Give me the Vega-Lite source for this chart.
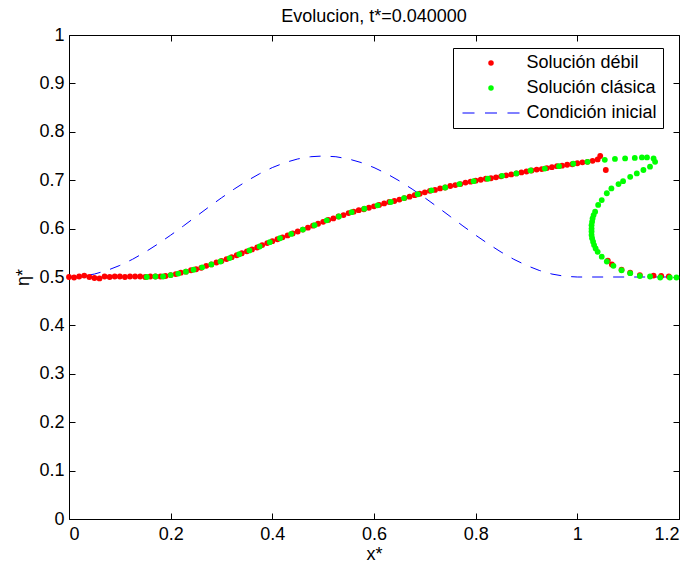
{
  "$schema": "https://vega.github.io/schema/vega-lite/v6.json",
  "width": 610,
  "height": 484,
  "autosize": "none",
  "padding": {"left": 69, "top": 35, "right": 12, "bottom": 48},
  "background": "white",
  "title": {"text": "Evolucion, t*=0.040000", "font": "Liberation Sans", "fontSize": 18, "fontWeight": "normal", "color": "black", "offset": 0},
  "datasets": {
    "inicial": [
      {"x":0,"y":0.5},{"x":0.025,"y":0.5015},{"x":0.05,"y":0.5061},{"x":0.075,"y":0.5136},{"x":0.1,"y":0.5239},{"x":0.125,"y":0.5366},{"x":0.15,"y":0.5515},{"x":0.175,"y":0.5683},{"x":0.2,"y":0.5864},{"x":0.225,"y":0.6054},{"x":0.25,"y":0.625},{"x":0.275,"y":0.6446},{"x":0.3,"y":0.6636},{"x":0.325,"y":0.6817},{"x":0.35,"y":0.6985},{"x":0.375,"y":0.7134},{"x":0.4,"y":0.7261},{"x":0.425,"y":0.7364},{"x":0.45,"y":0.7439},{"x":0.475,"y":0.7485},{"x":0.5,"y":0.75},{"x":0.525,"y":0.7485},{"x":0.55,"y":0.7439},{"x":0.575,"y":0.7364},{"x":0.6,"y":0.7261},{"x":0.625,"y":0.7134},{"x":0.65,"y":0.6985},{"x":0.675,"y":0.6817},{"x":0.7,"y":0.6636},{"x":0.725,"y":0.6446},{"x":0.75,"y":0.625},{"x":0.775,"y":0.6054},{"x":0.8,"y":0.5864},{"x":0.825,"y":0.5683},{"x":0.85,"y":0.5515},{"x":0.875,"y":0.5366},{"x":0.9,"y":0.5239},{"x":0.925,"y":0.5136},{"x":0.95,"y":0.5061},{"x":0.975,"y":0.5015},{"x":1.0,"y":0.5},{"x":1.2,"y":0.5}
    ],
    "debil": [
      {"x":0,"y":0.5},{"x":0.01,"y":0.499},{"x":0.02,"y":0.501},{"x":0.03,"y":0.503},{"x":0.04,"y":0.5},{"x":0.05,"y":0.498},{"x":0.06,"y":0.497},{"x":0.07,"y":0.501},{"x":0.08,"y":0.5},{"x":0.09,"y":0.501},{"x":0.1,"y":0.501},{"x":0.11,"y":0.5},{"x":0.12,"y":0.501},{"x":0.13,"y":0.501},{"x":0.14,"y":0.501},{"x":0.15,"y":0.5},{"x":0.16,"y":0.501},{"x":0.17,"y":0.501},{"x":0.18,"y":0.501},{"x":0.19,"y":0.502},
      {"x":0.2,"y":0.504},{"x":0.21,"y":0.506},{"x":0.22,"y":0.509},{"x":0.23,"y":0.511},{"x":0.24,"y":0.514},{"x":0.25,"y":0.516},{"x":0.26,"y":0.519},{"x":0.27,"y":0.523},{"x":0.28,"y":0.526},{"x":0.29,"y":0.53},
      {"x":0.3,"y":0.533},{"x":0.31,"y":0.537},{"x":0.32,"y":0.541},{"x":0.33,"y":0.545},{"x":0.34,"y":0.549},{"x":0.35,"y":0.553},{"x":0.36,"y":0.557},{"x":0.37,"y":0.561},{"x":0.38,"y":0.566},{"x":0.39,"y":0.57},
      {"x":0.4,"y":0.574},{"x":0.41,"y":0.578},{"x":0.42,"y":0.582},{"x":0.43,"y":0.586},{"x":0.44,"y":0.59},{"x":0.45,"y":0.594},{"x":0.46,"y":0.598},{"x":0.47,"y":0.602},{"x":0.48,"y":0.606},{"x":0.49,"y":0.61},
      {"x":0.5,"y":0.614},{"x":0.51,"y":0.618},{"x":0.52,"y":0.621},{"x":0.53,"y":0.625},{"x":0.54,"y":0.628},{"x":0.55,"y":0.632},{"x":0.56,"y":0.635},{"x":0.57,"y":0.638},{"x":0.58,"y":0.64},{"x":0.59,"y":0.643},
      {"x":0.6,"y":0.646},{"x":0.61,"y":0.649},{"x":0.62,"y":0.652},{"x":0.63,"y":0.655},{"x":0.64,"y":0.657},{"x":0.65,"y":0.66},{"x":0.66,"y":0.663},{"x":0.67,"y":0.666},{"x":0.68,"y":0.669},{"x":0.69,"y":0.672},
      {"x":0.7,"y":0.675},{"x":0.71,"y":0.678},{"x":0.72,"y":0.68},{"x":0.73,"y":0.683},{"x":0.74,"y":0.685},{"x":0.75,"y":0.688},{"x":0.76,"y":0.69},{"x":0.77,"y":0.692},{"x":0.78,"y":0.695},{"x":0.79,"y":0.697},
      {"x":0.8,"y":0.699},{"x":0.81,"y":0.701},{"x":0.82,"y":0.703},{"x":0.83,"y":0.704},{"x":0.84,"y":0.706},{"x":0.85,"y":0.708},{"x":0.86,"y":0.71},{"x":0.87,"y":0.712},{"x":0.88,"y":0.714},{"x":0.89,"y":0.716},
      {"x":0.9,"y":0.718},{"x":0.91,"y":0.72},{"x":0.92,"y":0.722},{"x":0.93,"y":0.723},{"x":0.94,"y":0.725},{"x":0.95,"y":0.727},{"x":0.96,"y":0.729},{"x":0.97,"y":0.73},{"x":0.98,"y":0.732},{"x":0.99,"y":0.733},
      {"x":1.0,"y":0.735},{"x":1.01,"y":0.737},{"x":1.02,"y":0.738},{"x":1.03,"y":0.74},{"x":1.04,"y":0.743},{"x":1.045,"y":0.75},{"x":1.056,"y":0.721},
      {"x":1.06,"y":0.534},{"x":1.068,"y":0.526},{"x":1.087,"y":0.515},{"x":1.104,"y":0.509},{"x":1.123,"y":0.504},{"x":1.15,"y":0.503},{"x":1.165,"y":0.502},{"x":1.18,"y":0.501}
    ],
    "clasica": [
      {"x":0.153,"y":0.5},{"x":0.17,"y":0.501},{"x":0.185,"y":0.501},{"x":0.2,"y":0.504},{"x":0.215,"y":0.507},{"x":0.23,"y":0.511},{"x":0.245,"y":0.515},{"x":0.262,"y":0.52},{"x":0.28,"y":0.526},{"x":0.298,"y":0.532},{"x":0.316,"y":0.539},{"x":0.335,"y":0.547},{"x":0.355,"y":0.555},{"x":0.375,"y":0.563},{"x":0.395,"y":0.572},{"x":0.415,"y":0.58},{"x":0.437,"y":0.589},{"x":0.46,"y":0.598},{"x":0.483,"y":0.607},{"x":0.507,"y":0.617},{"x":0.531,"y":0.625},{"x":0.556,"y":0.634},{"x":0.581,"y":0.641},{"x":0.607,"y":0.648},{"x":0.633,"y":0.655},{"x":0.659,"y":0.663},{"x":0.686,"y":0.671},{"x":0.713,"y":0.679},{"x":0.74,"y":0.685},{"x":0.768,"y":0.692},{"x":0.796,"y":0.698},{"x":0.824,"y":0.703},{"x":0.852,"y":0.709},{"x":0.88,"y":0.714},{"x":0.908,"y":0.72},{"x":0.936,"y":0.724},{"x":0.964,"y":0.729},{"x":0.992,"y":0.734},{"x":1.02,"y":0.738},
      {"x":1.054,"y":0.742},{"x":1.074,"y":0.744},{"x":1.094,"y":0.745},{"x":1.113,"y":0.746},{"x":1.127,"y":0.747},{"x":1.137,"y":0.747},{"x":1.15,"y":0.745},{"x":1.153,"y":0.738},
      {"x":1.143,"y":0.728},{"x":1.13,"y":0.721},{"x":1.117,"y":0.714},{"x":1.104,"y":0.707},{"x":1.09,"y":0.698},{"x":1.081,"y":0.692},{"x":1.067,"y":0.683},{"x":1.058,"y":0.673},{"x":1.048,"y":0.659},{"x":1.041,"y":0.649},{"x":1.035,"y":0.635},{"x":1.032,"y":0.628},{"x":1.03,"y":0.621},{"x":1.029,"y":0.614},{"x":1.028,"y":0.607},{"x":1.028,"y":0.6},{"x":1.028,"y":0.594},{"x":1.028,"y":0.587},{"x":1.029,"y":0.58},{"x":1.031,"y":0.573},{"x":1.033,"y":0.566},{"x":1.036,"y":0.559},{"x":1.04,"y":0.552},{"x":1.048,"y":0.542},{"x":1.058,"y":0.532},{"x":1.071,"y":0.523},{"x":1.087,"y":0.514},{"x":1.104,"y":0.508},{"x":1.123,"y":0.502},{"x":1.143,"y":0.501},{"x":1.163,"y":0.499},{"x":1.182,"y":0.499},{"x":1.195,"y":0.499}
    ]
  },
  "layer": [
    {
      "data": {"name": "inicial"},
      "mark": {"type": "line", "stroke": "#0000ff", "strokeDash": [11, 10], "strokeWidth": 1, "clip": true},
      "encoding": {
        "x": {"field": "x", "type": "quantitative", "scale": {"domain": [0, 1.2], "nice": false, "zero": false},
              "axis": {"orient": "bottom", "values": [0, 0.2, 0.4, 0.6, 0.8, 1, 1.2], "format": "~g", "title": "x*", "tickSize": -6, "labelPadding": 12, "titlePadding": 2}},
        "y": {"field": "y", "type": "quantitative", "scale": {"domain": [0, 1], "nice": false, "zero": false},
              "axis": {"orient": "left", "values": [0, 0.1, 0.2, 0.3, 0.4, 0.5, 0.6, 0.7, 0.8, 0.9, 1], "format": "~g", "title": "η*", "tickSize": -6, "labelPadding": 11, "titlePadding": 6}}
      }
    },
    {
      "data": {"name": "debil"},
      "mark": {"type": "point", "filled": true, "size": 34, "opacity": 1},
      "encoding": {
        "x": {"field": "x", "type": "quantitative",
              "axis": {"orient": "top", "values": [0, 0.2, 0.4, 0.6, 0.8, 1, 1.2], "labels": false, "title": null, "tickSize": -6}},
        "y": {"field": "y", "type": "quantitative",
              "axis": {"orient": "right", "values": [0, 0.1, 0.2, 0.3, 0.4, 0.5, 0.6, 0.7, 0.8, 0.9, 1], "labels": false, "title": null, "tickSize": -6}},
        "shape": {
          "datum": "Solución débil", "type": "nominal",
          "scale": {"domain": ["Solución débil", "Solución clásica", "Condición inicial"],
                    "range": ["circle", "circle", "M-10.41,-0.2L-6.02,-0.2L-6.02,0.2L-10.41,0.2ZM-2.19,-0.2L2.19,-0.2L2.19,0.2L-2.19,0.2ZM6.02,-0.2L10.41,-0.2L10.41,0.2L6.02,0.2Z"]}
        },
        "color": {
          "datum": "Solución débil", "type": "nominal",
          "scale": {"domain": ["Solución débil", "Solución clásica", "Condición inicial"], "range": ["#ff0000", "#00ff00", "#0000ff"]},
          "legend": {
            "orient": "none", "legendX": 384, "legendY": 13, "title": null,
            "symbolSize": 30, "padding": 6, "rowPadding": 7, "labelOffset": 26.5, "symbolOffset": 23,
            "strokeColor": "black", "fillColor": "white", "symbolStrokeWidth": 0, "symbolOpacity": 1,
            "labelFont": "Liberation Sans", "labelFontSize": 18, "labelColor": "black", "labelLimit": 300
          }
        }
      }
    },
    {
      "data": {"name": "clasica"},
      "mark": {"type": "point", "filled": true, "size": 34, "opacity": 1},
      "encoding": {
        "x": {"field": "x", "type": "quantitative", "axis": null},
        "y": {"field": "y", "type": "quantitative", "axis": null},
        "shape": {"datum": "Solución clásica", "type": "nominal"},
        "color": {"datum": "Solución clásica", "type": "nominal"}
      }
    }
  ],
  "resolve": {"axis": {"x": "independent", "y": "independent"}},
  "config": {
    "view": {"stroke": null},
    "axis": {
      "grid": false, "domainColor": "black", "domainWidth": 1, "tickColor": "black", "tickWidth": 1,
      "labelFont": "Liberation Sans", "labelFontSize": 18, "labelColor": "black",
      "titleFont": "Liberation Sans", "titleFontSize": 18, "titleFontWeight": "normal", "titleColor": "black"
    }
  }
}
